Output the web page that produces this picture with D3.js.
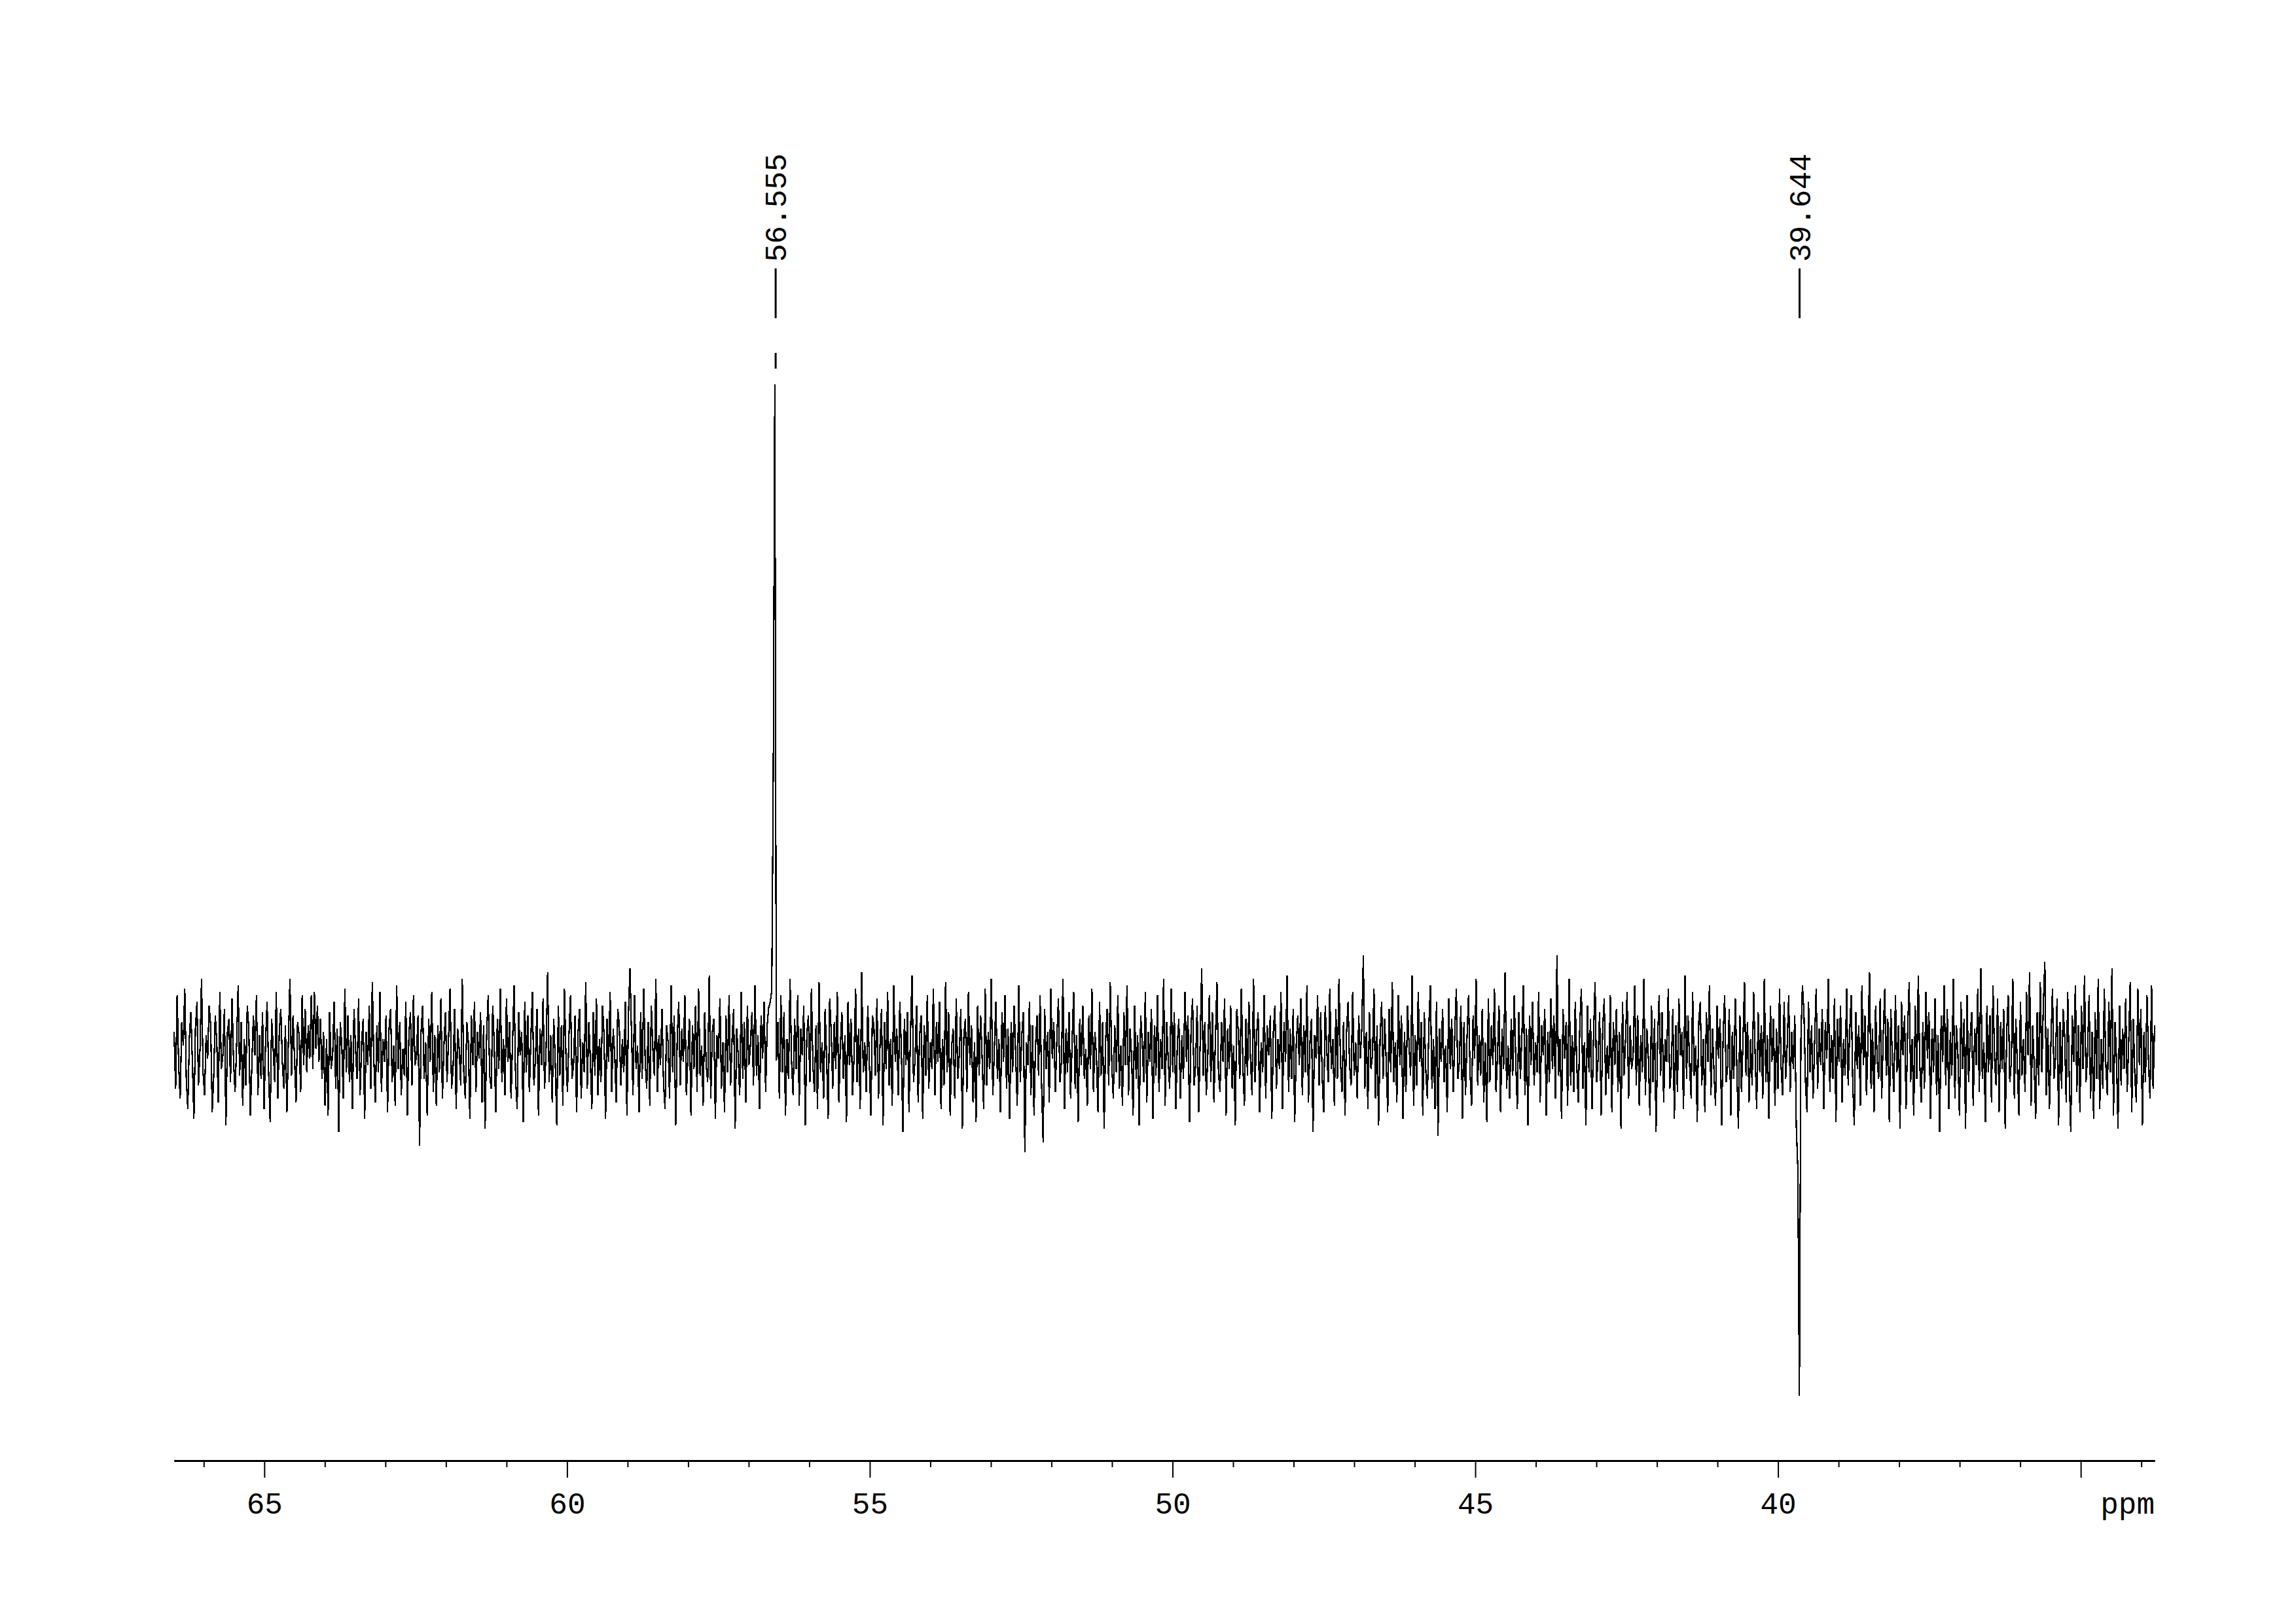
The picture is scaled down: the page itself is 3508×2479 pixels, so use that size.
<!DOCTYPE html>
<html>
<head>
<meta charset="utf-8">
<script src="https://cdn.jsdelivr.net/npm/d3@7/dist/d3.min.js"></script>
<style>
  html, body { margin: 0; padding: 0; background: #fff; }
  svg { display: block; }
</style>
</head>
<body>
<svg id="chart" width="3508" height="2479"></svg>
<script>
// spectral window (ppm), left to right
const ppmLeft = 66.49;
const ppmRight = 33.78;

// intensity (arbitrary units, baseline = 0)
const intensity = [
  30,-55,85,-20,-70,45,10,95,-40,-85,20,60,-15,-100,35,75,-50,5,110,-30,
  -65,25,-10,70,40,-90,-35,55,15,-75,90,-25,-5,65,-110,30,50,-45,80,-15,
  -60,10,100,-35,45,-80,20,-50,70,35,-95,-20,55,-5,85,-65,25,-40,60,-85,
  15,75,-30,-105,50,5,-45,90,-70,30,65,-15,-55,40,-90,20,110,-35,55,-10,
  -75,45,25,-60,85,-20,65,-30,40,-10,85,-25,90,5,70,-15,50,-40,30,-80,
  20,-95,60,-25,-5,75,-55,35,-120,45,10,-70,95,-30,55,-45,25,-85,65,5,
  -40,80,-65,15,50,-100,30,-20,70,-55,105,-10,-75,40,-30,90,-60,20,-15,55,
  -90,35,65,-45,10,-80,100,-25,45,-65,5,-35,75,-95,25,60,-50,85,-20,-5,
  55,-140,30,70,-40,15,-95,50,-15,90,-60,25,-80,40,-30,80,-70,10,60,-45,
  20,95,-55,-25,65,-85,35,5,-50,110,-30,-70,45,15,-100,55,-20,75,-60,30,
  -10,60,-75,40,-115,25,85,-35,-55,70,10,-90,50,-25,95,-45,20,-65,80,-15,
  45,-70,15,100,-40,-85,60,-5,30,-105,75,-30,55,-60,20,90,-50,-10,65,-95,
  35,-20,80,-55,5,120,-45,25,-75,50,-15,-110,70,-35,40,-80,95,-5,-60,25,
  85,-40,-20,55,-90,30,65,-70,15,-30,105,-55,45,-10,-85,60,-35,80,-65,20,
  -45,70,25,-100,50,-15,90,-60,35,-5,-75,65,40,-50,20,-30,75,-95,55,125,
  30,-65,85,-25,10,-90,60,-40,95,-15,-55,45,-80,70,5,-35,110,-60,25,-20,
  65,-45,-85,40,15,-70,100,-30,55,-110,20,75,-50,35,-15,85,-65,-5,50,-95,
  40,-25,70,-60,95,-35,10,-80,60,-20,-45,115,-70,30,50,-100,25,-10,80,-55,
  15,-90,55,-30,85,-50,20,65,-115,35,-5,-65,90,-40,45,-75,70,-20,10,60,
  -50,100,-35,25,-85,55,-10,75,-60,40,67,75,92,414,1000,-13,45,-70,85,-30,
  60,-95,20,-40,110,-15,-65,50,-25,85,-80,35,-5,70,-110,25,55,-45,95,-20,
  -60,40,-85,105,-30,15,-70,65,-10,-100,80,30,-55,45,-25,90,-75,10,60,-40,
  25,-105,75,-20,50,-65,-5,95,-45,35,-85,120,-30,15,-60,70,-15,-95,55,40,
  -35,80,-70,10,65,-110,45,-25,90,-50,20,-80,100,-15,35,-65,75,5,-120,50,
  -20,60,-90,30,115,-45,-10,70,-75,25,55,-100,40,-35,85,-55,15,-25,95,-65,
  45,-15,75,-85,20,-50,105,-30,60,-95,10,35,-70,80,-40,-5,65,-115,25,50,
  -60,90,-20,40,-75,15,-105,70,-35,55,-10,-85,95,-50,30,-25,110,-65,5,75,
  -40,20,-90,60,-15,85,-55,35,-100,45,-30,70,-5,-80,100,-45,25,60,-150,15,
  -20,75,-65,40,-95,10,55,-35,85,-50,-135,65,-25,30,-75,95,-10,45,-60,20,
  80,-45,-15,110,-85,35,-30,60,-70,15,90,-55,25,-105,50,-20,70,-40,5,-80,
  55,-25,95,-60,30,-10,-90,75,-35,45,-115,20,65,-50,105,-15,-70,40,-30,85,
  -55,10,-80,60,-20,100,-65,35,-5,-95,70,-40,25,-110,55,15,-45,90,-75,30,
  -15,65,-100,40,-35,85,-60,20,-25,110,-80,45,-10,-55,95,-30,60,-85,10,50,
  -70,25,-40,90,-15,55,-105,35,80,-50,-20,70,-90,15,125,-35,45,-65,-5,85,
  -45,60,-75,20,105,-30,-60,45,-15,80,-95,35,-25,70,-55,10,-110,65,30,-40,
  95,-20,-80,50,-35,75,-10,-65,110,-45,25,60,-90,15,-30,85,-70,40,-5,55,
  -100,30,70,-55,20,-25,90,-85,45,-15,115,-60,35,-40,65,-105,10,55,-20,80,
  -65,40,-30,100,-75,15,50,-120,25,-10,85,-50,60,-35,-90,70,5,-45,95,-25,
  20,-80,65,-40,110,-15,-60,45,-95,30,75,-20,-50,90,-35,15,-70,55,-10,35,
  145,-55,30,-85,60,-25,-5,95,-70,40,-110,20,75,-40,50,-15,-90,65,-30,105,
  -45,15,-75,85,-20,55,-100,30,-60,70,10,-35,115,-80,25,-50,90,-15,45,-95,
  60,-30,-70,40,100,-55,20,-85,75,-125,35,-15,65,-45,10,-90,80,-25,50,-60,
  30,95,-40,-15,70,-100,45,-65,20,85,-30,-80,55,-10,110,-50,25,-35,65,-75,
  15,-105,80,-45,40,-20,95,-60,-5,70,-90,35,-25,120,-55,10,-70,50,-35,85,
  -15,-85,60,-40,25,100,-65,35,-110,55,-20,75,-50,15,-30,90,-75,40,-5,65,
  -95,30,-45,80,-25,55,-70,145,-35,20,-100,65,-10,45,-80,110,-50,25,-60,75,
  -20,-75,40,95,-55,15,-110,70,-30,50,-85,25,105,-45,-10,60,-95,35,80,-65,
  10,-40,85,-90,45,-20,65,-60,30,-115,75,-35,20,90,-70,40,-25,-5,100,-50,
  55,-80,25,-30,110,-65,35,-10,-95,70,-45,50,-120,15,85,-35,60,-75,20,-15,
  95,-55,-25,65,-100,40,-60,80,-5,30,-85,115,-40,55,-20,-70,90,-35,10,-105,
  45,75,-50,20,-90,60,-15,100,-65,35,-30,-80,70,-10,50,-110,25,85,-45,-20,
  65,-95,30,-40,80,-25,-115,55,-60,15,105,-35,45,-75,20,-50,90,-5,-85,60,
  -30,40,-70,110,-45,25,-100,70,-15,50,-80,35,-55,95,-20,-65,75,-40,10,85,
  -60,30,-25,55,-113,-175,-515,20,100,60,-45,-90,75,-30,40,-70,15,95,-55,35,
  -20,65,-85,45,-10,110,-60,25,-40,80,-105,50,-15,70,-75,20,-35,95,-50,30,
  85,-45,-110,60,-25,40,-80,100,-20,55,-65,15,120,-55,35,-90,70,-10,-40,80,
  -70,25,95,-35,50,-105,65,-15,-60,85,-30,40,-115,75,-5,55,-85,30,105,-45,
  20,-95,70,-40,115,-20,-75,45,-55,90,-10,60,-100,35,-30,80,-65,25,-120,55,
  -15,100,-50,65,-85,30,-35,110,-70,40,-5,-95,75,-25,50,-115,85,-45,20,60,
  -80,35,-20,95,-60,125,-40,15,-105,70,-30,55,-75,100,-10,-50,80,-90,45,-25,
  65,-115,30,85,-45,-15,110,-70,50,-25,-95,75,-35,20,-60,90,-5,120,-80,40,
  -20,-100,60,-50,105,-30,70,135,-65,35,-85,15,95,-40,-10,80,-110,45,-55,65,
  25,-75,90,-35,-120,55,-15,100,-60,40,-90,70,-25,115,-45,-5,85,-70,30,-100,
  60,-40,110,-85,20,-55,95,-20,-65,75,-30,125,-95,45,-10,-115,70,-50,35,-25,
  80,-60,15,105,-90,50,-35,-75,95,-20,65,-110,30,-45,85,-15,-70,100,-55,40
];

// picked peaks
const peakLabels = [56.555, 39.644];

// axis ticks
const majorTicks = [65, 60, 55, 50, 45, 40, 35];
const minorTicks = [34, 36, 37, 38, 39, 41, 42, 43, 44, 46, 47, 48, 49, 51, 52, 53, 54,
                    56, 57, 58, 59, 61, 62, 63, 64, 66];
const unitLabel = "ppm";

const FONT = "'Liberation Mono', 'Courier New', monospace";

const svg = d3.select("#chart");
svg.append("rect").attr("width", 3508).attr("height", 2479).attr("fill", "#fff");

const xScale = d3.scaleLinear().domain([ppmLeft, ppmRight]).range([266, 3292]);
const yScale = d3.scaleLinear().domain([0, 1000]).range([1607, 587]);
const axisY = 2231;

const n = intensity.length;
const points = intensity.map((v, i) => ({
    ppm: ppmLeft + i * (ppmRight - ppmLeft) / (n - 1),
    v: v
}));

// spectrum trace
const line = d3.line()
    .x(d => xScale(d.ppm))
    .y(d => yScale(d.v));

svg.append("path")
    .datum(points)
    .attr("d", line)
    .attr("fill", "none")
    .attr("stroke", "#000")
    .attr("stroke-width", 2.2)
    .attr("shape-rendering", "crispEdges");

// peak labels
const labelG = svg.append("g");
peakLabels.forEach(p => {
    const x = xScale(p);
    labelG.append("line")
        .attr("x1", x).attr("x2", x)
        .attr("y1", 410).attr("y2", 486)
        .attr("stroke", "#000").attr("stroke-width", 3);

    // dotted connector down to a positive peak
    const top = d3.max(points.filter(d => Math.abs(d.ppm - p) < 0.05), d => d.v);
    if (top > 500) {
        labelG.append("line")
            .attr("x1", x).attr("x2", x)
            .attr("y1", 486).attr("y2", yScale(top))
            .attr("stroke", "#000").attr("stroke-width", 3)
            .attr("stroke-dasharray", "0 53 24 1000");
    }

    labelG.append("text")
        .attr("transform", `translate(${x},400) rotate(-90)`)
        .attr("dy", "0.35em")
        .attr("font-family", FONT)
        .attr("font-size", 46)
        .attr("fill", "#000")
        .text(p.toFixed(3));
});

// axis: major and minor ticks
const majorAxis = d3.axisBottom(xScale)
    .tickValues(majorTicks)
    .tickSize(26)
    .tickSizeOuter(0)
    .tickPadding(22)
    .tickFormat(d => d === 35 ? "" : d3.format("d")(d));

const minorAxis = d3.axisBottom(xScale)
    .tickValues(minorTicks)
    .tickSize(10)
    .tickSizeOuter(0)
    .tickFormat("");

const gMinor = svg.append("g").attr("transform", `translate(0,${axisY})`).call(minorAxis);
const gMajor = svg.append("g").attr("transform", `translate(0,${axisY})`).call(majorAxis);

[gMinor, gMajor].forEach(g => {
    g.select(".domain").attr("stroke", "#000").attr("stroke-width", 3);
    g.selectAll(".tick line").attr("stroke", "#000").attr("stroke-width", 2);
    g.selectAll(".tick text")
        .attr("font-family", FONT)
        .attr("font-size", 46)
        .attr("fill", "#000");
});

svg.append("text")
    .attr("x", xScale(ppmRight))
    .attr("y", axisY + 81)
    .attr("text-anchor", "end")
    .attr("font-family", FONT)
    .attr("font-size", 46)
    .attr("fill", "#000")
    .text(unitLabel);
</script>
</body>
</html>
